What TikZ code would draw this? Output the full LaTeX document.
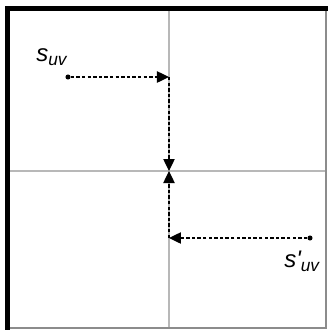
\documentclass[tikz,border=0pt]{standalone}
\usepackage{fontspec}
\setmainfont{Liberation Sans}
\usetikzlibrary{arrows.meta, positioning}

\begin{document}
\begin{tikzpicture}[x=0.75pt, y=-0.75pt,
  dot/.style={circle, fill=black, inner sep=0pt, minimum size=3.8pt},
  move/.style={dash pattern=on 2.6pt off 1.6pt, line width=1pt, -{Triangle[length=9pt, width=8.5pt]}},
  axisline/.style={draw=black!28, line width=0.8pt},
  lbl/.style={inner sep=0pt, anchor=base west}]
\useasboundingbox (0,0) rectangle (328,330);
\fill[white] (0,0) rectangle (328,330);
\draw[axisline] (169,11) -- (169,328);
\draw[axisline] (10,171) -- (326,171);
\draw[black!45, line width=1.2pt] (326,11) -- (326,328) -- (10,328);
\draw[black, line width=3.8pt] (7.5,330) -- (7.5,8.5) -- (328,8.5);

\node[dot] (suv) at (68,77) {};
\node[dot] (suvp) at (310,238) {};
\coordinate (turn) at (169,77);
\coordinate (meet) at (169,171);
\coordinate (turnp) at (169,238);

\node[lbl] (lsuv) at (36,61) {\fontsize{18}{18}\selectfont\itshape s\raisebox{-3pt}{\fontsize{13}{13}\selectfont uv}};
\node[lbl] (lsuvp) at (284,267) {\fontsize{18}{18}\selectfont\itshape s\textquotesingle\raisebox{-3pt}{\fontsize{13}{13}\selectfont uv}};

\draw[move] (suv) -- (turn);
\draw[move] (turn) -- (meet);
\draw[move] (suvp) -- (turnp);
\draw[move] (turnp) -- (meet);
\end{tikzpicture}
\end{document}
